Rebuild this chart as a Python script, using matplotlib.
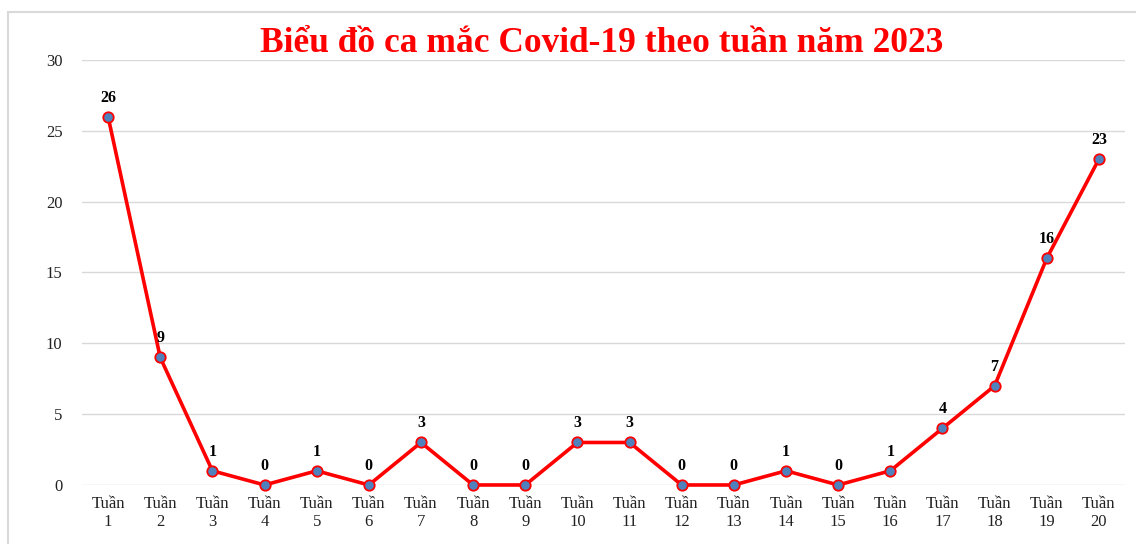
import matplotlib
matplotlib.use('Agg')
import matplotlib.pyplot as plt
from matplotlib.patches import Rectangle

# số ca mắc theo tuần
tuan = [f'Tuần\n{i}' for i in range(1, 21)]
so_ca = [26, 9, 1, 0, 1, 0, 3, 0, 0, 3, 3, 0, 0, 1, 0, 1, 4, 7, 16, 23]
y_ticks = [0, 5, 10, 15, 20, 25, 30]

plt.rcParams['font.family'] = ['Liberation Serif', 'DejaVu Serif']

fig = plt.figure(figsize=(11.36, 5.44), dpi=100)
ax = fig.add_axes([0.0722, 0.1085, 0.9181, 0.7812])

# khung viền xám
fig.patches.append(Rectangle((8 / 1136, -0.1), 1.2, 1 - 12 / 544 + 0.1,
                             transform=fig.transFigure, fill=False,
                             edgecolor='#d9d9d9', linewidth=1.5))

x = list(range(len(so_ca)))
ax.plot(x, so_ca, color='#ff0000', linewidth=2.6, marker='o', markersize=7.5,
        markerfacecolor='#4f81bd', markeredgecolor='#ff0000', markeredgewidth=1.3,
        zorder=3, clip_on=False)

for xi, v in zip(x, so_ca):
    ax.annotate(str(v), (xi, v), xytext=(0, 8), textcoords='offset points',
                ha='center', va='bottom', fontsize=11.5, fontweight='bold', color='black')

ax.set_xlim(-0.5, len(so_ca) - 0.5)
ax.set_ylim(0, 30)
ax.set_yticks(y_ticks)
ax.set_xticks(x)
ax.set_xticklabels(tuan, fontsize=12, color='#222222', linespacing=1.2)
ax.tick_params(axis='y', labelsize=12, colors='#222222', length=0, pad=14)
ax.tick_params(axis='x', length=0, pad=8)
ax.grid(axis='y', color='#d9d9d9', linewidth=1)
ax.set_axisbelow(True)
for s in ax.spines.values():
    s.set_visible(False)

fig.text(0.53, 0.92, 'Biểu đồ ca mắc Covid-19 theo tuần năm 2023', ha='center', va='center',
         fontsize=25.5, fontweight='bold', color='#ff0000')

fig.savefig('out.png', dpi=100)
